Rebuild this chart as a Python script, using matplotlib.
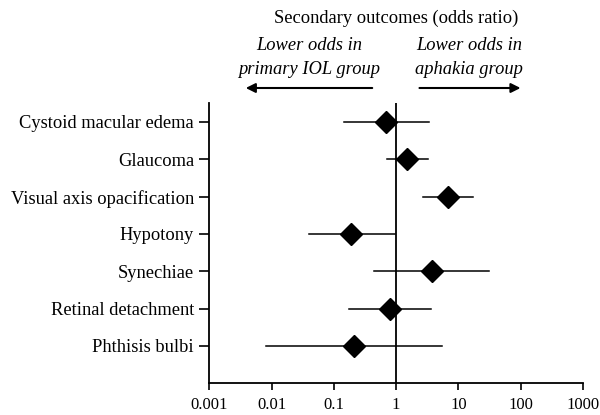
import matplotlib
matplotlib.use("Agg")
import matplotlib.pyplot as plt
import numpy as np

outcomes = ["Cystoid macular edema", "Glaucoma", "Visual axis opacification",
            "Hypotony", "Synechiae", "Retinal detachment", "Phthisis bulbi"]
odds_ratio = [0.69, 1.52, 6.7, 0.19, 3.7, 0.79, 0.21]
ci_lower = [0.148, 0.72, 2.7, 0.04, 0.44, 0.178, 0.0081]
ci_upper = [3.35, 3.2, 17.0, 0.96, 31.0, 3.6, 5.5]
xtick_vals = [0.001, 0.01, 0.1, 1, 10, 100, 1000]
xtick_labels = ["0.001", "0.01", "0.1", "1", "10", "100", "1000"]

plt.rcParams['font.family'] = ['Liberation Serif', 'DejaVu Serif']
FS = 13.3

fig = plt.figure(figsize=(6, 4.15), dpi=100)
ax = fig.add_axes([209.3/600, 1-383.3/415, 373.7/600, 280/415])

n = len(outcomes)
ypos = np.arange(n, 0, -1)

ax.axvline(1, color='black', lw=1.3, zorder=1)
for y, o, lo, hi in zip(ypos, odds_ratio, ci_lower, ci_upper):
    ax.plot([lo, hi], [y, y], color='black', lw=1.1, zorder=2)
ax.plot(odds_ratio, ypos, linestyle='none', marker='D', ms=11.5,
        color='black', zorder=3)

ax.set_xscale('log')
ax.set_xlim(0.001, 1000)
ax.set_ylim(0, 7.5)
ax.set_xticks(xtick_vals)
ax.set_xticklabels(xtick_labels)
ax.minorticks_off()
ax.set_yticks(ypos)
ax.set_yticklabels(outcomes)
ax.tick_params(axis='both', direction='out', width=1.2, color='black')
ax.tick_params(axis='y', length=7, pad=4, labelsize=FS)
ax.tick_params(axis='x', length=5, pad=5, labelsize=12)
for s in ['top', 'right']:
    ax.spines[s].set_visible(False)
for s in ['left', 'bottom']:
    ax.spines[s].set_linewidth(1.3)

fig.text(396/600, 1-18/415, "Secondary outcomes (odds ratio)", ha='center', va='center', fontsize=FS)
fig.text(309/600, 1-45/415, "Lower odds in", ha='center', va='center', fontsize=FS, style='italic')
fig.text(309/600, 1-70/415, "primary IOL group", ha='center', va='center', fontsize=FS, style='italic')
fig.text(469/600, 1-45/415, "Lower odds in", ha='center', va='center', fontsize=FS, style='italic')
fig.text(469/600, 1-70/415, "aphakia group", ha='center', va='center', fontsize=FS, style='italic')

ay = 1-88/415
fig.patches.append(matplotlib.patches.FancyArrowPatch((375/600, ay), (243/600, ay),
    transform=fig.transFigure, arrowstyle='-|>', mutation_scale=14, lw=1.5, color='black'))
fig.patches.append(matplotlib.patches.FancyArrowPatch((416.7/600, ay), (523.3/600, ay),
    transform=fig.transFigure, arrowstyle='-|>', mutation_scale=14, lw=1.5, color='black'))

fig.savefig("out.png", dpi=100)
